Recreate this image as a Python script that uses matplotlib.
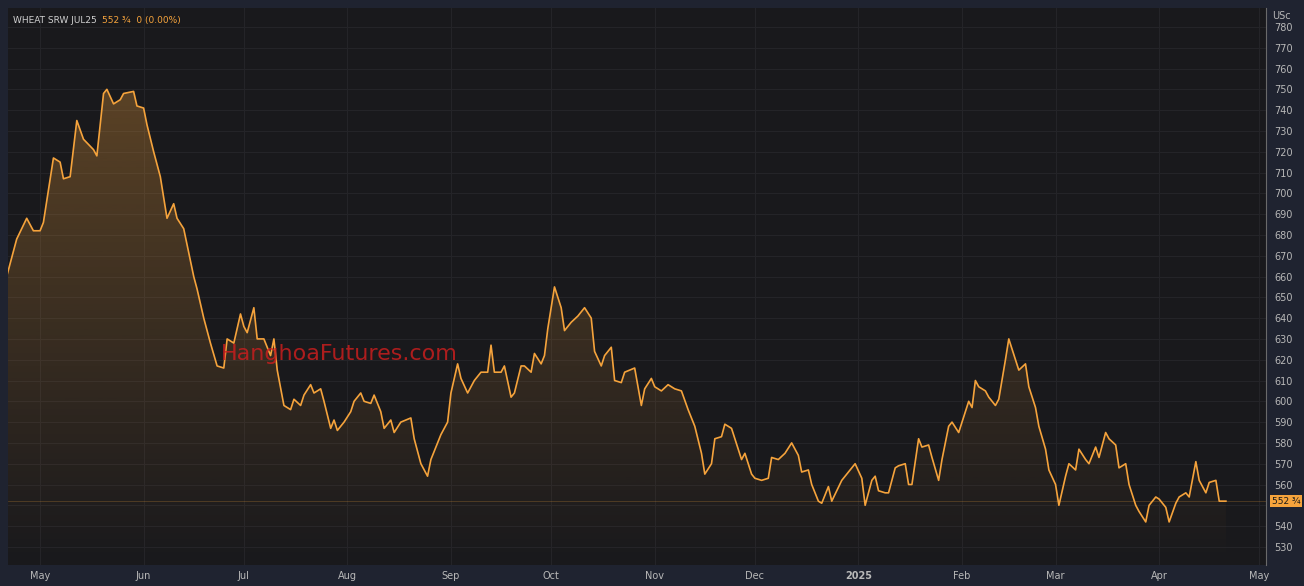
import numpy as np
import pandas as pd
import matplotlib
matplotlib.use("Agg")
import matplotlib.pyplot as plt
import matplotlib.dates as mdates
from matplotlib.patches import Polygon

# days since 2024-05-01 and closing prices (US cents)
days = [-10, -7, -4, -2, 0, 1, 4, 6, 7, 9, 11, 13, 16, 17, 19, 20, 22, 24, 25, 28, 29, 31, 32, 34, 36, 38, 40, 41, 43,
        46, 47, 49, 51, 53, 55, 56, 58, 60, 61, 62, 64, 65, 67, 69, 70, 71, 73, 75, 76, 78, 79, 81, 82, 84, 85, 87, 88,
        89, 91, 93, 94, 96, 97, 99, 100, 102, 103, 105, 106, 108, 111, 112, 114, 116, 117, 120, 122, 123, 125, 126,
        128, 130, 132, 134, 135, 136, 138, 139, 141, 142, 144, 145, 147, 148, 150, 151, 152, 154, 156, 157, 159, 161,
        163, 165, 166, 168, 169, 171, 172, 174, 175, 178, 180, 181, 183, 184, 186, 188, 190, 192, 194, 196, 198, 199,
        201, 202, 204, 205, 207, 208, 210, 211, 213, 214, 216, 218, 219, 221, 223, 225, 227, 228, 230, 231, 233, 234,
        236, 237, 240, 242, 244, 246, 247, 249, 250, 251, 253, 254, 256, 257, 259, 260, 261, 263, 264, 266, 267, 269,
        270, 272, 273, 275, 276, 278, 279, 280, 281, 283, 284, 286, 287, 289, 290, 292, 293, 295, 296, 298, 299, 301,
        302, 304, 305, 307, 308, 310, 311, 313, 314, 316, 317, 319, 320, 322, 323, 325, 326, 328, 329, 331, 332, 334,
        335, 337, 338, 340, 341, 343, 344, 346, 347, 349, 350, 352, 353, 355]
prices = [660, 678, 688, 682, 682, 686, 717, 715, 707, 708, 735, 726, 721, 718, 748, 750, 743, 745, 748, 749, 742, 741,
          733, 720, 708, 688, 695, 688, 683, 660, 654, 640, 628, 617, 616, 630, 628, 642, 636, 633, 645, 630, 630, 622,
          630, 615, 598, 596, 601, 598, 603, 608, 604, 606, 600, 587, 591, 586, 590, 595, 600, 604, 600, 599, 603, 595,
          587, 591, 585, 590, 592, 582, 570, 564, 572, 584, 590, 604, 618, 611, 604, 610, 614, 614, 627, 614, 614, 617,
          602, 604, 617, 617, 614, 623, 618, 622, 635, 655, 645, 634, 638, 641, 645, 640, 624, 617, 622, 626, 610, 609,
          614, 616, 598, 606, 611, 607, 605, 608, 606, 605, 596, 588, 575, 565, 570, 582, 583, 589, 587, 582, 572, 575,
          565, 563, 562, 563, 573, 572, 575, 580, 574, 566, 567, 560, 552, 551, 559, 552, 562, 566, 570, 563, 550, 562,
          564, 557, 556, 556, 568, 569, 570, 560, 560, 582, 578, 579, 573, 562, 572, 588, 590, 585, 590, 600, 597, 610,
          607, 605, 602, 598, 601, 620, 630, 620, 615, 618, 607, 597, 588, 577, 567, 560, 550, 564, 570, 567, 577, 572,
          570, 578, 573, 585, 582, 579, 568, 570, 560, 550, 547, 542, 550, 554, 553, 549, 542, 551, 554, 556, 554, 571,
          562, 556, 561, 562, 552, 552]
yticks = list(range(530, 790, 10))
month_ticks = ["2024-05-01", "2024-06-01", "2024-07-01", "2024-08-01", "2024-09-01", "2024-10-01", "2024-11-01",
               "2024-12-01", "2025-01-01", "2025-02-01", "2025-03-01", "2025-04-01", "2025-05-01"]
month_labels = ["May", "Jun", "Jul", "Aug", "Sep", "Oct", "Nov", "Dec", "2025", "Feb", "Mar", "Apr", "May"]

base = pd.Timestamp("2024-05-01")
dates = [base + pd.Timedelta(days=d) for d in days]
xn = mdates.date2num(dates)

BG = "#19191c"
LINE = "#f5a33c"
GRID = "#242428"

fig = plt.figure(figsize=(13.04, 5.86), dpi=100, facecolor="#1f2330")
ax = fig.add_axes([8 / 1304, 21 / 586, 1258 / 1304, 557 / 586], facecolor=BG)

ymin, ymax = 521.3, 789.1
ax.set_ylim(ymin, ymax)
ax.set_xlim(mdates.date2num(base + pd.Timedelta(days=-9.6)), mdates.date2num(base + pd.Timedelta(days=367)))

# gradient fill under the line
grad = np.zeros((256, 1, 4))
grad[..., :3] = matplotlib.colors.to_rgb(LINE)
grad[:, 0, 3] = np.linspace(0.0, 0.30, 256)
im = ax.imshow(grad, aspect="auto", origin="lower",
               extent=[xn[0], xn[-1], ymin, max(prices)], zorder=1)
poly = Polygon(list(zip(xn, prices)) + [(xn[-1], ymin), (xn[0], ymin)], closed=True,
               facecolor="none", edgecolor="none")
ax.add_patch(poly)
im.set_clip_path(poly)

ax.plot(xn, prices, color=LINE, linewidth=1.2, zorder=3)
ax.axhline(prices[-1], color=LINE, linewidth=0.6, alpha=0.25, zorder=2)

ax.set_yticks(yticks)
ax.set_yticklabels(["" if v == 550 else str(v) for v in yticks])
ax.set_xticks(mdates.date2num(pd.to_datetime(month_ticks)))
ax.set_xticklabels(month_labels)
for lab, txt in zip(ax.get_xticklabels(), month_labels):
    if txt == "2025":
        lab.set_fontweight("bold")
ax.grid(True, color=GRID, linewidth=0.8)
ax.set_axisbelow(True)
ax.yaxis.tick_right()
ax.tick_params(axis="both", length=0, colors="#b8b8b8", labelsize=7)
ax.tick_params(axis="y", pad=6)
ax.tick_params(axis="x", pad=4)
for s in ax.spines.values():
    s.set_visible(False)
ax.spines["right"].set_visible(True)
ax.spines["right"].set_color("#6a6a6a")
ax.spines["right"].set_linewidth(0.8)

ax.text(1.0045, 1.0 - 3 / 557, "USc", transform=ax.transAxes, color="#b8b8b8", fontsize=7, va="top", ha="left")
ax.annotate("552 ¾", xy=(1.0, prices[-1]), xycoords=("axes fraction", "data"), xytext=(4, 0),
            textcoords="offset points", va="center", ha="left", fontsize=6.5, color="#1a1a1a",
            bbox=dict(boxstyle="square,pad=0.2", facecolor=LINE, edgecolor="none"))

t = ax.text(0.004, 0.985, "WHEAT SRW JUL25", transform=ax.transAxes, color="#d0d0d0", fontsize=6.5, va="top")
ax.annotate("552 ¾  0 (0.00%)", xy=(1, 0), xycoords=t, xytext=(4, 0), textcoords="offset points",
            color=LINE, fontsize=6.5, va="bottom")

ax.text(mdates.date2num(base + pd.Timedelta(days=54)), 618, "HanghoaFutures.com", color="#c81e1e",
        fontsize=16, alpha=0.85, va="bottom", ha="left", zorder=4)

fig.savefig("out.png", dpi=100, facecolor=fig.get_facecolor())
